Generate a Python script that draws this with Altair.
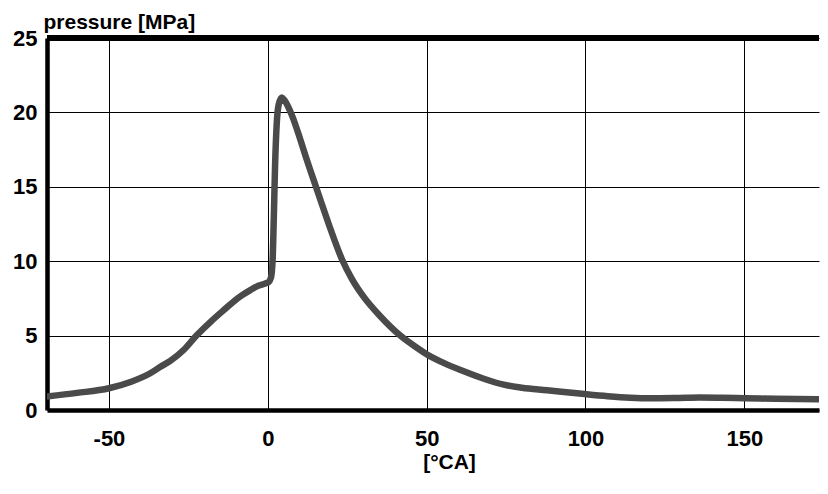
import altair as alt
import pandas as pd

crank_angle = [-70, -60, -50, -43, -37, -33.8, -30.7, -26.5, -22.3, -18, -13.4, -10.8, -8.2,
               -5.5, -3, -0.8, 0.3,
               1.0, 1.5, 1.9, 2.3, 2.8, 3.4, 4.4, 5.3, 7.6, 10.2, 12.3, 15, 16.6, 19.5, 23.4,
               26.5, 30.2, 35.4, 41.7, 47.5, 50, 55, 61.7, 68, 74.3, 80, 87.9,
               99.7, 107, 114, 120.5, 128, 136, 143, 150, 160, 173.5]
pressure = [0.9, 1.15, 1.46, 1.9, 2.47, 2.9, 3.3, 4.03, 5.04, 5.93, 6.8, 7.28, 7.7,
            8.06, 8.35, 8.5, 8.6,
            8.9, 10.0, 13.0, 16.5, 19.2, 20.5, 21.0, 20.8, 19.8, 18.2, 16.8, 15.1, 14.1, 12.3, 10.1,
            8.8, 7.6, 6.3, 5.0, 4.1, 3.75, 3.2, 2.6, 2.1, 1.7, 1.5, 1.33,
            1.07, 0.93, 0.83, 0.79, 0.8, 0.84, 0.82, 0.79, 0.75, 0.72]

x_ticks = [-50, 0, 50, 100, 150]
y_ticks = [0, 5, 10, 15, 20, 25]

df = pd.DataFrame({"ca": crank_angle, "p": pressure})

W, H = 772, 372
FONT = "Liberation Sans"

line = alt.Chart(df).mark_line(
    color="#4a4a4a", strokeWidth=6.5, interpolate="monotone", clip=True,
    strokeCap="round", strokeJoin="round"
).encode(
    x=alt.X("ca:Q", scale=alt.Scale(domain=[-69.5, 173.5], nice=False, zero=False),
            axis=alt.Axis(values=x_ticks, title="[°CA]", grid=True, gridColor="#000000",
                          gridWidth=1, gridOpacity=1, domainColor="#000000", domainWidth=4.5,
                          ticks=False, labelPadding=18, labelFont=FONT, labelFontSize=22,
                          labelFontWeight="bold", labelColor="#000000", labelFlush=False,
                          labelExpr="toString(datum.value)",
                          titleFont=FONT, titleFontSize=21, titleFontWeight="bold",
                          titleColor="#000000", titleX=402, titleY=58,
                          titleBaseline="alphabetic", titleAlign="center")),
    y=alt.Y("p:Q", scale=alt.Scale(domain=[0, 25], nice=False),
            axis=alt.Axis(values=y_ticks, title="pressure [MPa]", grid=True,
                          gridColor="#000000", gridWidth=1, gridOpacity=1,
                          domainColor="#000000", domainWidth=4.5, ticks=False,
                          labelPadding=10, labelFont=FONT, labelFontSize=22,
                          labelFontWeight="bold", labelColor="#000000", labelFlush=False,
                          titleFont=FONT, titleFontSize=21, titleFontWeight="bold",
                          titleColor="#000000", titleAngle=0, titleX=-4, titleY=-10,
                          titleAlign="left", titleBaseline="alphabetic")),
)

top = alt.Chart(df).mark_rule(color="#000000", strokeWidth=4.5).encode(
    x=alt.value(0), x2=alt.value(W), y=alt.value(0)
)

chart = alt.layer(line, top).properties(
    width=W, height=H,
    autosize=alt.AutoSizeParams(type="none"),
    padding={"left": 39, "top": 30, "right": 1, "bottom": 70},
).configure_view(stroke=None)

chart.save("out.html", embed_options={"renderer": "svg", "actions": False})
